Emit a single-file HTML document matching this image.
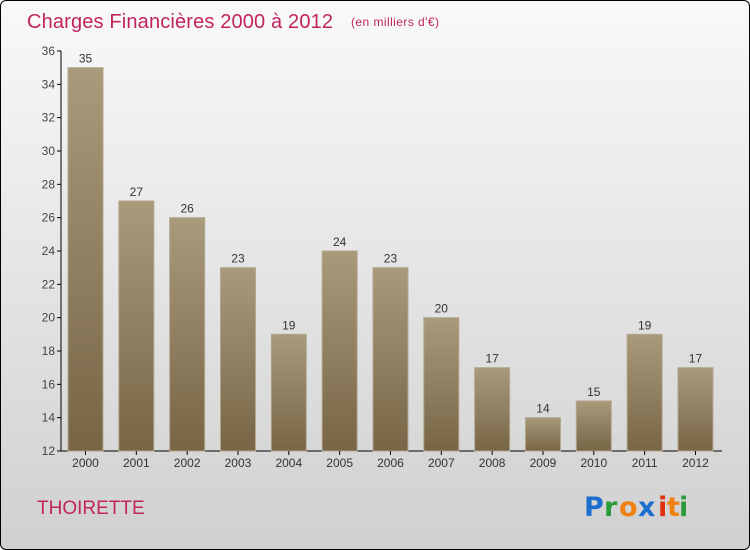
<!DOCTYPE html>
<html><head><meta charset="utf-8"><style>
body{margin:0;}
#c{width:748px;height:548px;border:1px solid #000;border-radius:6px;background:linear-gradient(#f9f9f9,#d0d0d0);position:relative;overflow:hidden;font-family:"Liberation Sans",sans-serif;}
</style></head><body>
<div id="c">
<svg width="748" height="548" id="svg">
<defs><linearGradient id="bg" x1="0" y1="0" x2="0" y2="1"><stop offset="0" stop-color="#a99a7c"/><stop offset="1" stop-color="#776545"/></linearGradient></defs>
<text x="26" y="27" font-size="20" fill="#c0245f" textLength="306">Charges Financières 2000 à 2012</text>
<text x="350" y="25" font-size="12" fill="#c0245f" textLength="88">(en milliers d'€)</text>
<text x="36" y="513" font-size="19" fill="#c0245f">THOIRETTE</text>
<g font-size="27" font-weight="bold" font-family="'DejaVu Sans',sans-serif">
<text x="583" y="515" fill="#1a6fcf">P</text><text x="603" y="515" fill="#2a9a3a">r</text><text x="618" y="515" fill="#f08010">o</text><text x="637" y="515" fill="#1a6fcf">x</text><text x="657" y="515" fill="#e03010">i</text><text x="666" y="515" fill="#f08010">t</text><text x="678" y="515" fill="#2a9a3a">i</text>
</g>
<g id="plot"></g>
</svg>
</div>
<script>
const years=["2000","2001","2002","2003","2004","2005","2006","2007","2008","2009","2010","2011","2012"];
const values=[35,27,26,23,19,24,23,20,17,14,15,19,17];
const yTicks=[12,14,16,18,20,22,24,26,28,30,32,34,36];
const NS="http://www.w3.org/2000/svg";
const g=document.getElementById('plot');
const y=v=>450-(v-12)*400/24;
const x=i=>67+i*50.83;
function mk(t,a){const e=document.createElementNS(NS,t);for(const k in a)e.setAttribute(k,a[k]);g.appendChild(e);return e;}
let ax=mk('line',{x1:60,y1:50,x2:60,y2:450,stroke:'#000'});


let xa=mk('line',{x1:60,y1:450,x2:721,y2:450,stroke:'#000'});


yTicks.forEach(v=>{
 const t=mk('line',{x1:56,x2:60,y1:y(v),y2:y(v),stroke:'#000'});
 
 
 const l=mk('text',{x:54,y:y(v)+4,'font-size':12,fill:'#444','text-anchor':'end'});
 l.textContent=v;
 
 
});
values.forEach((v,i)=>{
 const r=mk('rect',{x:x(i),y:y(v),width:35,height:450-y(v),fill:'url(#bg)',stroke:'#b3a78e','stroke-width':1});
 
 
 const vl=mk('text',{x:x(i)+17.5,y:y(v)-5,'font-size':12,fill:'#333','text-anchor':'middle'});
 vl.textContent=v;
 
 
 const tk=mk('line',{x1:x(i)+17.5,x2:x(i)+17.5,y1:450,y2:454,stroke:'#000'});
 
 
 const xl=mk('text',{x:x(i)+17.5,y:466,'font-size':12,fill:'#333','text-anchor':'middle'});
 xl.textContent=years[i];
 
 
});
</script>
</body></html>
